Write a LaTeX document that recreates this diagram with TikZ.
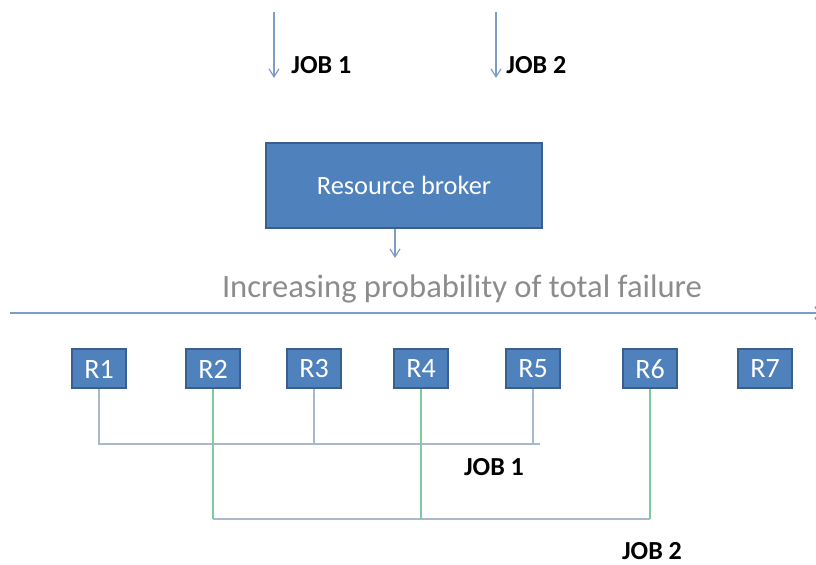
\documentclass[tikz,border=0pt]{standalone}
\usepackage{fontspec}
\setmainfont{Carlito}
\usetikzlibrary{arrows.meta}
\definecolor{boxblue}{HTML}{4F81BD}
\definecolor{boxedge}{HTML}{3A5F8E}
\definecolor{arrblue}{HTML}{7F9DC4}
\definecolor{buscol}{HTML}{A9B8CC}
\definecolor{greencol}{HTML}{7CCB9E}
\definecolor{labgray}{HTML}{8C8C8C}
\tikzset{
  rbox/.style={draw=boxedge, line width=1pt, fill=boxblue, text=white,
    minimum width=27pt, minimum height=19.5pt, inner sep=0pt, font=\fontsize{14}{16}\selectfont},
  joblabel/.style={font=\fontsize{13}{15}\selectfont\bfseries, inner sep=0pt},
  smallarr/.style={draw=arrblue, line width=0.6pt, -{Straight Barb[length=4pt,width=5pt]}},
  busline/.style={draw=buscol, line width=0.6pt},
  greenline/.style={draw=greencol, line width=0.6pt}
}
\begin{document}
\begin{tikzpicture}[x=0.5pt,y=-0.5pt]
\useasboundingbox (0,0) rectangle (816,565);
% incoming jobs
\coordinate (in1) at (274,12);
\coordinate (out1) at (274,78);
\coordinate (in2) at (496,12);
\coordinate (out2) at (496,78);
\draw[smallarr] (in1) -- (out1);
\draw[smallarr] (in2) -- (out2);
\node[joblabel, anchor=west] (jlab1) at (291,65) {JOB 1};
\node[joblabel, anchor=west] (jlab2) at (506,65) {JOB 2};
% broker
\node[draw=boxedge, line width=1pt, fill=boxblue, text=white, minimum width=138pt,
  minimum height=42.5pt, font=\fontsize{13.2}{15}\selectfont] (broker) at (404,185.5) {Resource broker};
\coordinate (bout) at (395,258);
\draw[smallarr] (broker.south -| bout) -- (bout);
\node[text=labgray, font=\fontsize{16.3}{19}\selectfont] (fail) at (462,289) {Increasing probability of total failure};
% failure axis
\coordinate (axl) at (10,313);
\coordinate (axr) at (825,313);
\draw[draw=arrblue, line width=1.2pt, -{Straight Barb[length=4pt,width=6pt]}] (axl) -- (axr);
% resources
\foreach \i/\x in {1/99,2/213,3/314,4/421,5/533,6/650,7/765}
  \node[rbox] (r\i) at (\x,369) {R\i};
% job 1 bus
\coordinate (bus1) at (540,444);
\draw[busline] (r1.south) |- (bus1);
\draw[busline] (r3.south) -- (r3.south |- bus1);
\draw[busline] (r5.south) -- (r5.south |- bus1);
\node[joblabel] (blab1) at (494,467) {JOB 1};
% job 2 bus
\coordinate (bus2) at (650,519);
\draw[busline] (r2.south |- bus2) -- (bus2);
\draw[greenline] (r2.south) -- (r2.south |- bus2);
\draw[greenline] (r4.south) -- (r4.south |- bus2);
\draw[greenline] (r6.south) -- (bus2);
\node[joblabel] (blab2) at (652,551) {JOB 2};
\end{tikzpicture}
\end{document}
